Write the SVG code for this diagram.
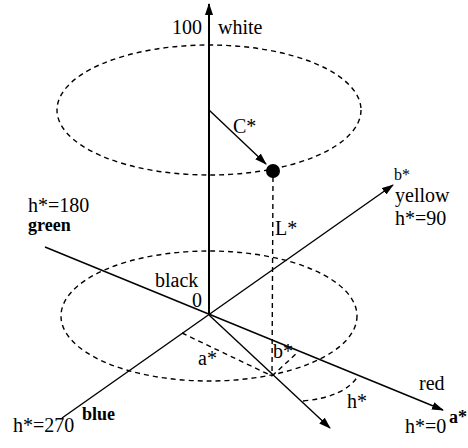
<svg xmlns="http://www.w3.org/2000/svg" width="468" height="448" viewBox="0 0 468 448">
<style>
.ln{stroke:#000;stroke-width:1.4;fill:none}
.ax{stroke:#000;stroke-width:2;fill:none}
.ds{stroke:#000;stroke-width:1.4;fill:none;stroke-dasharray:5 4}
text{font-family:'Liberation Serif',serif;font-size:20px;fill:#000}
.sm{font-size:16px}
.b{font-weight:bold;font-size:18px}
</style>
<defs>
<marker id="ah" viewBox="0 0 12 8" refX="11" refY="4" markerWidth="12" markerHeight="8" markerUnits="userSpaceOnUse" orient="auto">
<path d="M0,0 L12,4 L0,8 z" fill="#000"/>
</marker>
</defs>
<rect width="468" height="448" fill="#fff"/>
<g id="connectors">
<ellipse class="ds" cx="209" cy="110" rx="152" ry="65"/>
<ellipse class="ds" cx="209" cy="316" rx="148" ry="65"/>
<line class="ax" x1="209" y1="315" x2="209" y2="4" marker-end="url(#ah)"/>
<line class="ln" x1="62" y1="418" x2="393" y2="185" marker-end="url(#ah)"/>
<line class="ln" x1="45" y1="247" x2="443" y2="410" marker-end="url(#ah)"/>
<line class="ln" x1="209" y1="315" x2="330" y2="428" marker-end="url(#ah)"/>
<line class="ln" x1="209" y1="110" x2="266" y2="164" marker-end="url(#ah)"/>
<line class="ds" x1="273" y1="177" x2="272" y2="376"/>
<line class="ds" x1="182" y1="333" x2="272" y2="376"/>
<line class="ds" x1="272" y1="376" x2="298" y2="352"/>
<path class="ds" d="M303,401 Q345,397 358,376"/>
</g>
<g id="point"><circle cx="273" cy="171" r="7" fill="#000"/></g>
<g id="labels" font-family="Liberation Serif, serif">
<text x="172" y="34">100</text>
<text x="218" y="34">white</text>
<text x="233" y="133">C*</text>
<text x="275" y="235">L*</text>
<text class="sm" x="394" y="180">b*</text>
<text x="395" y="202">yellow</text>
<text x="395" y="225">h*=90</text>
<text x="28" y="212">h*=180</text>
<text class="b" x="28" y="231">green</text>
<text x="155" y="287">black</text>
<text x="192" y="307">0</text>
<text x="198" y="365">a*</text>
<text x="273" y="358">b*</text>
<text x="347" y="408">h*</text>
<text x="419" y="390">red</text>
<text x="405" y="433">h*=0</text>
<text class="b" x="449" y="423" font-size="17">a*</text>
<text class="b" x="82" y="420">blue</text>
<text x="13" y="432">h*=270</text>
</g>
</svg>
